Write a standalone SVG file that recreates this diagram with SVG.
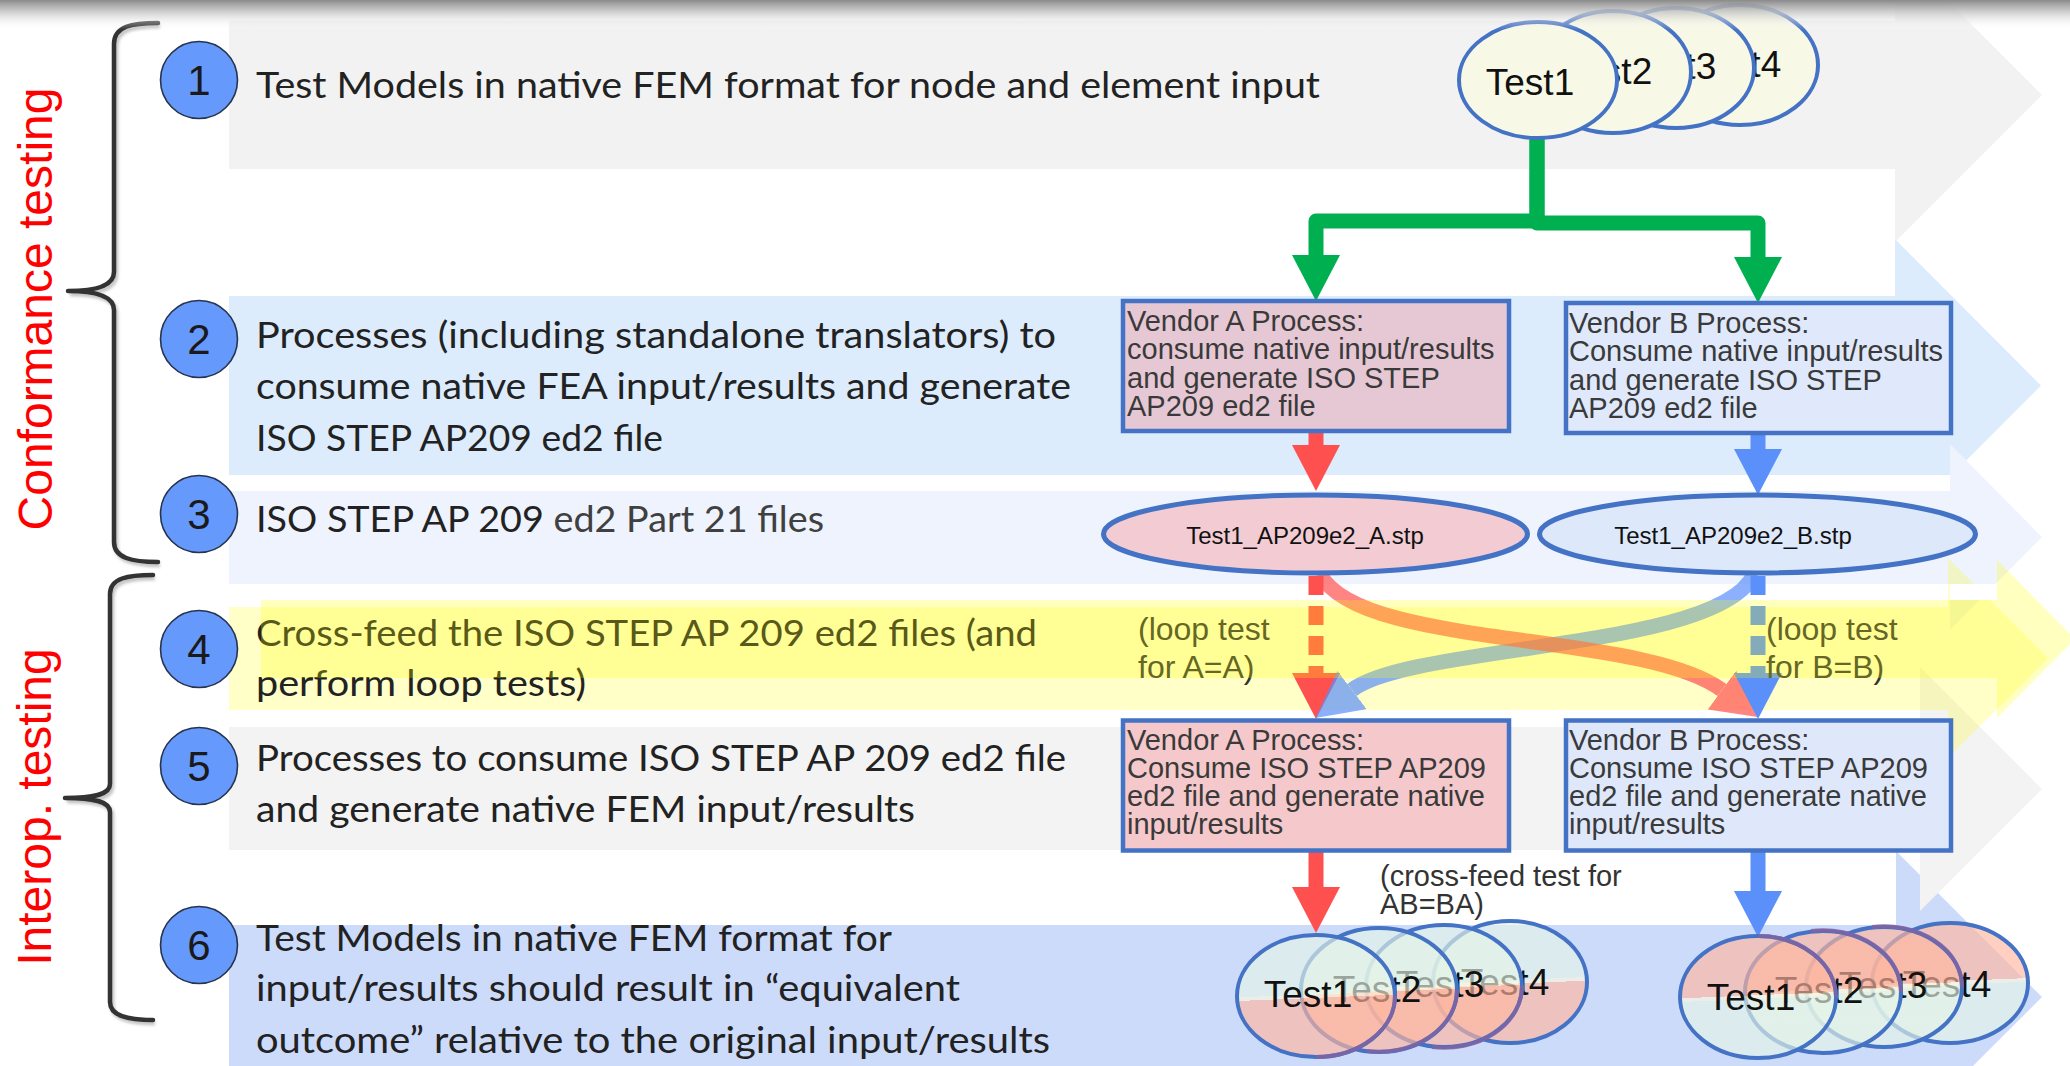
<svg xmlns="http://www.w3.org/2000/svg" width="2070" height="1066" viewBox="0 0 2070 1066">
  <defs>
    <linearGradient id="topShade" x1="0" y1="0" x2="0" y2="1">
      <stop offset="0" stop-color="#8a8a8a"/>
      <stop offset="0.4" stop-color="#c4c4c4" stop-opacity="0.8"/>
      <stop offset="1" stop-color="#ffffff" stop-opacity="0"/>
    </linearGradient>
    <!-- two-tone fills for the result sets: blue over pink, pink over blue -->
    <linearGradient id="fillBluePink" x1="0" y1="0" x2="0" y2="1" gradientTransform="rotate(-3 0.5 0.5)">
      <stop offset="0" stop-color="#e4f4e7"/>
      <stop offset="0.485" stop-color="#e4f4e7"/>
      <stop offset="0.485" stop-color="#fbf7df"/>
      <stop offset="0.515" stop-color="#fbf7df"/>
      <stop offset="0.515" stop-color="#ffb69f"/>
      <stop offset="1" stop-color="#ffb69f"/>
    </linearGradient>
    <linearGradient id="fillPinkBlue" x1="0" y1="0" x2="0" y2="1" gradientTransform="rotate(-3 0.5 0.5)">
      <stop offset="0" stop-color="#ffb69f"/>
      <stop offset="0.485" stop-color="#ffb69f"/>
      <stop offset="0.485" stop-color="#fbf7df"/>
      <stop offset="0.515" stop-color="#fbf7df"/>
      <stop offset="0.515" stop-color="#e4f4e7"/>
      <stop offset="1" stop-color="#e4f4e7"/>
    </linearGradient>
    <marker id="headGreen" markerUnits="userSpaceOnUse" viewBox="0 0 46 48" refX="0" refY="24" markerWidth="46" markerHeight="48" orient="auto">
      <path d="M0,0 L46,24 L0,48 z" fill="#00b050"/>
    </marker>
    <marker id="headRed" markerUnits="userSpaceOnUse" viewBox="0 0 46 48" refX="0" refY="24" markerWidth="46" markerHeight="48" orient="auto">
      <path d="M0,0 L46,24 L0,48 z" fill="#ff5050"/>
    </marker>
    <marker id="headBlue" markerUnits="userSpaceOnUse" viewBox="0 0 46 48" refX="0" refY="24" markerWidth="46" markerHeight="48" orient="auto">
      <path d="M0,0 L46,24 L0,48 z" fill="#5b8ff9"/>
    </marker>
    <marker id="headRedSoft" markerUnits="userSpaceOnUse" viewBox="0 0 46 48" refX="0" refY="24" markerWidth="46" markerHeight="48" orient="auto">
      <path d="M0,0 L46,24 L0,48 z" fill="#ff5050" fill-opacity="0.7"/>
    </marker>
    <marker id="headBlueSoft" markerUnits="userSpaceOnUse" viewBox="0 0 46 48" refX="0" refY="24" markerWidth="46" markerHeight="48" orient="auto">
      <path d="M0,0 L46,24 L0,48 z" fill="#5b8ff9" fill-opacity="0.7"/>
    </marker>
    <filter id="soft" x="-30%" y="-5%" width="160%" height="110%">
      <feGaussianBlur stdDeviation="1.5"/>
    </filter>
  </defs>
  <style>
    .row { font-family: Lato, "Liberation Sans", sans-serif; font-size: 36px; fill: #222222; }
    .numc { fill: #6699fc; stroke: #26344f; stroke-width: 1.6; }
    .num { font-family: "Liberation Sans", Arial, sans-serif; font-size: 42px; fill: #1a1a1a; text-anchor: middle; }
    .side { font-family: "Liberation Sans", Arial, sans-serif; font-size: 48px; fill: #ff0000; text-anchor: middle; }
    .brace { fill: none; stroke: #333333; stroke-width: 4.5; stroke-linecap: round; stroke-linejoin: round; }
    .braceShadow { fill: none; stroke: #9a9a9a; stroke-width: 4.5; opacity: 0.6; }
    .box { stroke: #4472c4; stroke-width: 4.5; }
    .boxt { font-family: "Liberation Sans", Arial, sans-serif; font-size: 29px; fill: #3a3a3a; }
    .ell { stroke: #4472c4; stroke-width: 4; }
    .ellStp { stroke: #4472c4; stroke-width: 5; }
    .tname { font-family: "Liberation Sans", Arial, sans-serif; font-size: 37px; fill: #111111; text-anchor: middle; }
    .stp { font-family: "Liberation Sans", Arial, sans-serif; font-size: 24px; fill: #111111; text-anchor: middle; }
    .note { font-family: "Liberation Sans", Arial, sans-serif; fill: #333333; }
    .conn { fill: none; stroke-width: 15; }
    .setL { fill: url(#fillBluePink); fill-opacity: 0.65; }
    .setR { fill: url(#fillPinkBlue); fill-opacity: 0.65; }
    .tint { fill: none; stroke: #8064a2; stroke-width: 4; opacity: 0.85; }
  </style>

  <!-- row bands with arrow heads -->
  <g id="bands">
    <polygon points="229,21 1895,21 1895,-52 2042,95 1895,242 1895,169 229,169" fill="#f2f2f2"/>
    <polygon points="229,296 1863,296 1863,207 2041,385.5 1863,564 1863,475 229,475" fill="#dcecfc"/>
    <polygon points="229,491 1950,491 1950,444 2042,537 1950,630 1950,584 229,584" fill="#eef3fe"/>
    <polygon points="229,925 1896,925 1896,851 2042,997 1896,1143 229,1143" fill="#cddbfb"/>
    <polygon points="229,727 1920,727 1920,667 2042,789 1920,911 1920,850 229,850" fill="#f3f3f3"/>
    <rect x="1863" y="169" width="32" height="127" fill="#ffffff"/>
    <rect x="1863" y="475" width="87" height="16" fill="#ffffff"/>
    <polygon points="229,607 1948,607 1948,558 2048,658 1948,758 1948,710 229,710" fill="#ffff00" fill-opacity="0.22"/>
    <rect x="1950" y="584" width="47" height="16" fill="#ffffff"/>
  </g>

  <!-- phase braces and labels -->
  <g id="phase-conformance">
    <path class="braceShadow" filter="url(#soft)" transform="translate(2,3)" d="M158,23 C132,23 114,26 114,44 L114,272 C114,285 98,291 68,291 C98,291 114,297 114,310 L114,542 C114,558 132,562 158,562"/>
    <path class="brace" d="M158,23 C132,23 114,26 114,44 L114,272 C114,285 98,291 68,291 C98,291 114,297 114,310 L114,542 C114,558 132,562 158,562"/>
    <text class="side" transform="translate(52,309) rotate(-90)">Conformance testing</text>
  </g>
  <g id="phase-interop">
    <path class="braceShadow" filter="url(#soft)" transform="translate(2,3)" d="M153,575 C128,575 110,578 110,594 L110,784 C110,794 96,798 65,798 C96,798 110,802 110,812 L110,1002 C110,1016 128,1020 153,1020"/>
    <path class="brace" d="M153,575 C128,575 110,578 110,594 L110,784 C110,794 96,798 65,798 C96,798 110,802 110,812 L110,1002 C110,1016 128,1020 153,1020"/>
    <text class="side" transform="translate(51,807) rotate(-90)">Interop. testing</text>
  </g>

  <!-- numbered steps -->
  <g id="step1">
    <circle class="numc" cx="199" cy="80" r="38.5"/>
    <text class="num" x="199" y="95">1</text>
    <text class="row" x="256" y="98" textLength="1064" lengthAdjust="spacingAndGlyphs">Test Models in native FEM format for node and element input</text>
  </g>
  <g id="step2">
    <circle class="numc" cx="199" cy="339" r="38.5"/>
    <text class="num" x="199" y="354">2</text>
    <text class="row" x="256" y="348" textLength="800" lengthAdjust="spacingAndGlyphs">Processes (including standalone translators) to</text>
    <text class="row" x="256" y="399" textLength="815" lengthAdjust="spacingAndGlyphs">consume native FEA input/results and generate</text>
    <text class="row" x="256" y="451" textLength="407" lengthAdjust="spacingAndGlyphs">ISO STEP AP209 ed2 file</text>
  </g>
  <g id="step3">
    <circle class="numc" cx="199" cy="514" r="38.5"/>
    <text class="num" x="199" y="529">3</text>
    <text class="row" x="256" y="532" textLength="568" lengthAdjust="spacingAndGlyphs">ISO STEP AP 209 <tspan fill="#404040">ed2 Part 21 files</tspan></text>
  </g>
  <g id="step4">
    <circle class="numc" cx="199" cy="649" r="38.5"/>
    <text class="num" x="199" y="664">4</text>
    <text class="row" x="256" y="646" textLength="781" lengthAdjust="spacingAndGlyphs">Cross-feed the ISO STEP AP 209 ed2 files (and</text>
    <text class="row" x="256" y="696" textLength="330" lengthAdjust="spacingAndGlyphs">perform loop tests)</text>
  </g>
  <g id="step5">
    <circle class="numc" cx="199" cy="766" r="38.5"/>
    <text class="num" x="199" y="781">5</text>
    <text class="row" x="256" y="771" textLength="810" lengthAdjust="spacingAndGlyphs">Processes to consume ISO STEP AP 209 ed2 file</text>
    <text class="row" x="256" y="822" textLength="659" lengthAdjust="spacingAndGlyphs">and generate native FEM input/results</text>
  </g>
  <g id="step6">
    <circle class="numc" cx="199" cy="945" r="38.5"/>
    <text class="num" x="199" y="960">6</text>
    <text class="row" x="256" y="951" textLength="636" lengthAdjust="spacingAndGlyphs">Test Models in native FEM format for</text>
    <text class="row" x="256" y="1001" textLength="704" lengthAdjust="spacingAndGlyphs">input/results should result in “equivalent</text>
    <text class="row" x="256" y="1053" textLength="794" lengthAdjust="spacingAndGlyphs">outcome” relative to the original input/results</text>
  </g>

  <!-- connectors -->
  <g id="connectors">
    <path class="conn" stroke="#00b050" stroke-linejoin="round" d="M1537,130 V221 H1316 V255" marker-end="url(#headGreen)"/>
    <path class="conn" stroke="#00b050" stroke-linejoin="round" d="M1537,130 V223 H1758 V257" marker-end="url(#headGreen)"/>
    <path class="conn" stroke="#ff5050" d="M1316,428 V445" marker-end="url(#headRed)"/>
    <path class="conn" stroke="#5b8ff9" d="M1758,430 V449" marker-end="url(#headBlue)"/>
    <path class="conn" stroke="#ff5050" stroke-dasharray="19 11" d="M1316,576 V673" marker-end="url(#headRed)"/>
    <path class="conn" stroke="#5b8ff9" stroke-opacity="0.7" d="M1754,574 C1720,650 1412,644 1352,690" marker-end="url(#headBlueSoft)"/>
    <path class="conn" stroke="#ff5050" stroke-opacity="0.7" d="M1320,574 C1360,650 1640,630 1722,690" marker-end="url(#headRedSoft)"/>
    <path class="conn" stroke="#5b8ff9" stroke-dasharray="19 11" d="M1758,576 V673" marker-end="url(#headBlue)"/>
    <path class="conn" stroke="#ff5050" d="M1316,848 V887" marker-end="url(#headRed)"/>
    <path class="conn" stroke="#5b8ff9" d="M1758,848 V891" marker-end="url(#headBlue)"/>
  </g>

  <!-- native test models -->
  <g id="tests-native">
    <ellipse class="ell" cx="1740" cy="65" rx="78" ry="60" fill="#f8f8e6"/>
    <text class="tname" x="1737" y="77">Test4</text>
    <ellipse class="ell" cx="1676" cy="68" rx="78" ry="60" fill="#f8f8e6"/>
    <text class="tname" x="1672" y="79">Test3</text>
    <ellipse class="ell" cx="1613" cy="72" rx="78" ry="61" fill="#f8f8e6"/>
    <text class="tname" x="1608" y="84">Test2</text>
    <ellipse class="ell" cx="1538" cy="80" rx="79" ry="58" fill="#f8f8e6"/>
    <text class="tname" x="1530" y="95">Test1</text>
  </g>

  <g id="vendorA-export">
    <rect class="box" x="1123" y="301" width="386" height="130" fill="#e6c8d4"/>
    <text class="boxt" x="1127" y="331">Vendor A Process:</text>
    <text class="boxt" x="1127" y="359">consume native input/results</text>
    <text class="boxt" x="1127" y="388">and generate ISO STEP</text>
    <text class="boxt" x="1127" y="416">AP209 ed2 file</text>
  </g>
  <g id="vendorB-export">
    <rect class="box" x="1566" y="303" width="385" height="130" fill="#dfe9fb"/>
    <text class="boxt" x="1569" y="333">Vendor B Process:</text>
    <text class="boxt" x="1569" y="361">Consume native input/results</text>
    <text class="boxt" x="1569" y="390">and generate ISO STEP</text>
    <text class="boxt" x="1569" y="418">AP209 ed2 file</text>
  </g>

  <g id="fileA">
    <ellipse class="ellStp" cx="1315.5" cy="534" rx="212" ry="39" fill="#f2cbd3"/>
    <text class="stp" x="1305" y="544">Test1_AP209e2_A.stp</text>
  </g>
  <g id="fileB">
    <ellipse class="ellStp" cx="1757.5" cy="534" rx="218" ry="39" fill="#dee8fb"/>
    <text class="stp" x="1733" y="544">Test1_AP209e2_B.stp</text>
  </g>

  <g id="vendorA-import">
    <rect class="box" x="1123" y="720.5" width="386" height="130" fill="#f5c9cb"/>
    <text class="boxt" x="1127" y="750">Vendor A Process:</text>
    <text class="boxt" x="1127" y="778">Consume ISO STEP AP209</text>
    <text class="boxt" x="1127" y="806">ed2 file and generate native</text>
    <text class="boxt" x="1127" y="834">input/results</text>
  </g>
  <g id="vendorB-import">
    <rect class="box" x="1566" y="720.5" width="385" height="130" fill="#dfe8fb"/>
    <text class="boxt" x="1569" y="750">Vendor B Process:</text>
    <text class="boxt" x="1569" y="778">Consume ISO STEP AP209</text>
    <text class="boxt" x="1569" y="806">ed2 file and generate native</text>
    <text class="boxt" x="1569" y="834">input/results</text>
  </g>

  <!-- result sets after the round trip -->
  <g id="tests-resultA">
    <ellipse class="ell setL" cx="1510" cy="982" rx="77" ry="61"/>
    <text class="tname" x="1505" y="995">Test4</text>
    <ellipse class="ell setL" cx="1444" cy="986" rx="78" ry="61"/>
    <path class="tint" d="M1432,1047 A78,61 0 0 0 1522,986"/>
    <text class="tname" x="1440" y="997">Test3</text>
    <ellipse class="ell setL" cx="1379" cy="990" rx="78" ry="62"/>
    <path class="tint" d="M1367,1051 A78,62 0 0 0 1457,990"/>
    <text class="tname" x="1377" y="1002">Test2</text>
    <ellipse class="ell setL" cx="1316" cy="996" rx="79" ry="61"/>
    <path class="tint" d="M1316,1057 A79,61 0 0 0 1395,996"/>
    <text class="tname" x="1308" y="1007">Test1</text>
  </g>
  <g id="tests-resultB">
    <ellipse class="ell setR" cx="1950" cy="983" rx="78" ry="60"/>
    <text class="tname" x="1947" y="997">Test4</text>
    <ellipse class="ell setR" cx="1884" cy="987" rx="78" ry="60"/>
    <path class="tint" d="M1872,927 A78,60 0 0 1 1962,987"/>
    <text class="tname" x="1883" y="998">Test3</text>
    <ellipse class="ell setR" cx="1823" cy="992" rx="78" ry="61"/>
    <path class="tint" d="M1811,931 A78,61 0 0 1 1901,992"/>
    <text class="tname" x="1819" y="1003">Test2</text>
    <ellipse class="ell setR" cx="1758" cy="997" rx="78" ry="61"/>
    <path class="tint" d="M1758,936 A78,61 0 0 1 1836,997"/>
    <text class="tname" x="1751" y="1010">Test1</text>
  </g>

  <!-- connector notes -->
  <g id="notes">
    <text class="note" font-size="32" x="1138" y="640">(loop test</text>
    <text class="note" font-size="32" x="1138" y="678">for A=A)</text>
    <text class="note" font-size="32" x="1766" y="640">(loop test</text>
    <text class="note" font-size="32" x="1766" y="678">for B=B)</text>
    <text class="note" font-size="29" x="1380" y="886">(cross-feed test for</text>
    <text class="note" font-size="29" x="1380" y="914">AB=BA)</text>
  </g>

  <!-- translucent highlight arrow across the cross-feed row -->
  <polygon id="crossfeed-highlight" points="261,600 1997,600 1997,560 2075,639 1997,718 1997,678 261,678" fill="#ffff00" fill-opacity="0.25"/>

  <rect id="top-shade" x="0" y="0" width="2070" height="30" fill="url(#topShade)"/>
</svg>
